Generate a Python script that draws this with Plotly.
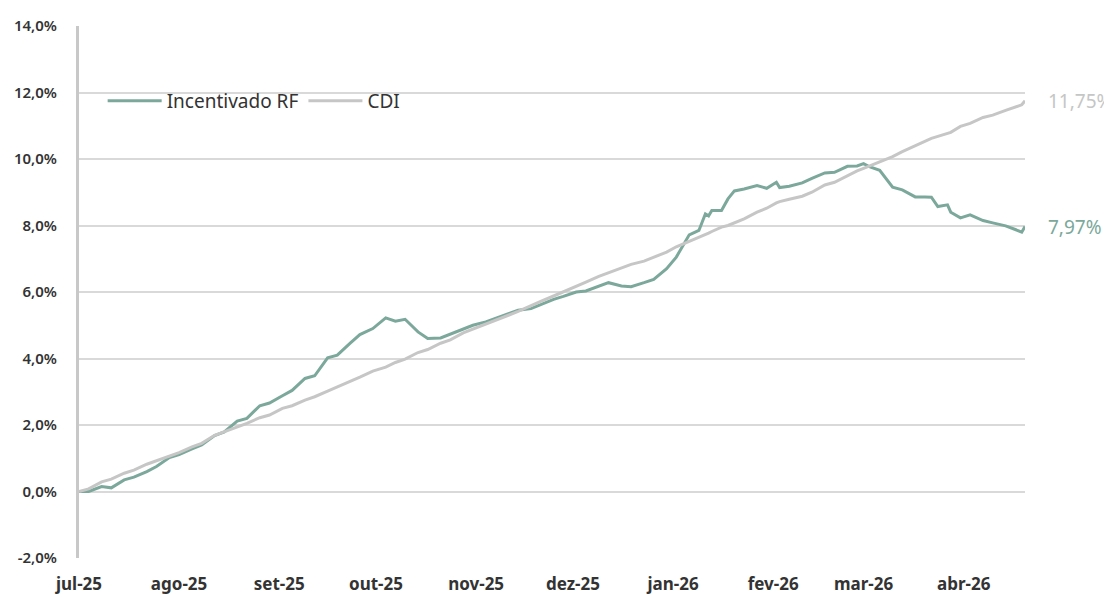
import plotly.graph_objects as go

dates = [
    "2025-07-01", "2025-07-04", "2025-07-08", "2025-07-11", "2025-07-15", "2025-07-18",
    "2025-07-22", "2025-07-25", "2025-07-29", "2025-08-01", "2025-08-05", "2025-08-08",
    "2025-08-12", "2025-08-15", "2025-08-19", "2025-08-22", "2025-08-26", "2025-08-29",
    "2025-09-02", "2025-09-05", "2025-09-09", "2025-09-12", "2025-09-16", "2025-09-19",
    "2025-09-23", "2025-09-26", "2025-09-30", "2025-10-03", "2025-10-04", "2025-10-07",
    "2025-10-10", "2025-10-14", "2025-10-17", "2025-10-21", "2025-10-24", "2025-10-28",
    "2025-10-31", "2025-11-04", "2025-11-07", "2025-11-11", "2025-11-14", "2025-11-18",
    "2025-11-21", "2025-11-25", "2025-11-28", "2025-12-02", "2025-12-05", "2025-12-09",
    "2025-12-12", "2025-12-16", "2025-12-19", "2025-12-23", "2025-12-26", "2025-12-30",
    "2026-01-02", "2026-01-06", "2026-01-09", "2026-01-11", "2026-01-12", "2026-01-13",
    "2026-01-16", "2026-01-18", "2026-01-20", "2026-01-23", "2026-01-27", "2026-01-30",
    "2026-02-02", "2026-02-03", "2026-02-06", "2026-02-10", "2026-02-13", "2026-02-17",
    "2026-02-20", "2026-02-24", "2026-02-27", "2026-03-01", "2026-03-03", "2026-03-06",
    "2026-03-10", "2026-03-13", "2026-03-17", "2026-03-20", "2026-03-22", "2026-03-24",
    "2026-03-27", "2026-03-28", "2026-03-31", "2026-04-03", "2026-04-07", "2026-04-10",
    "2026-04-14", "2026-04-17", "2026-04-19", "2026-04-20",
]

incentivado_rf = [
    0.00, 0.00, 0.15, 0.11, 0.35, 0.43,
    0.60, 0.75, 1.02, 1.11, 1.28, 1.40,
    1.68, 1.79, 2.12, 2.20, 2.58, 2.66,
    2.88, 3.04, 3.40, 3.48, 4.02, 4.10,
    4.46, 4.72, 4.90, 5.12, 5.22, 5.12,
    5.18, 4.80, 4.60, 4.62, 4.73, 4.89,
    5.00, 5.10, 5.20, 5.35, 5.45, 5.50,
    5.62, 5.78, 5.87, 6.00, 6.03, 6.16,
    6.28, 6.18, 6.16, 6.28, 6.38, 6.70,
    7.05, 7.72, 7.85, 8.35, 8.29, 8.45,
    8.45, 8.80, 9.04, 9.10, 9.20, 9.12,
    9.30, 9.14, 9.18, 9.28, 9.42, 9.58,
    9.60, 9.78, 9.79, 9.86, 9.76, 9.66,
    9.15, 9.07, 8.86, 8.86, 8.85, 8.57,
    8.62, 8.40, 8.23, 8.32, 8.15, 8.08,
    7.99, 7.88, 7.80, 7.97,
]

cdi = [
    0.00, 0.08, 0.29, 0.37, 0.55, 0.64,
    0.82, 0.92, 1.07, 1.17, 1.34, 1.45,
    1.69, 1.80, 1.93, 2.05, 2.22, 2.30,
    2.50, 2.58, 2.75, 2.85, 3.02, 3.14,
    3.30, 3.44, 3.62, 3.71, 3.74, 3.88,
    3.98, 4.18, 4.27, 4.46, 4.56, 4.77,
    4.88, 5.02, 5.14, 5.30, 5.42, 5.60,
    5.72, 5.88, 6.00, 6.18, 6.30, 6.47,
    6.58, 6.72, 6.83, 6.93, 7.04, 7.20,
    7.36, 7.52, 7.63, 7.72, 7.77, 7.82,
    7.95, 8.00, 8.08, 8.20, 8.40, 8.52,
    8.68, 8.72, 8.79, 8.88, 9.00, 9.22,
    9.30, 9.50, 9.64, 9.72, 9.80, 9.90,
    10.07, 10.22, 10.40, 10.52, 10.62, 10.68,
    10.77, 10.80, 10.98, 11.07, 11.25, 11.32,
    11.46, 11.57, 11.63, 11.75,
]

tick_dates = ["2025-07-01", "2025-08-01", "2025-09-01", "2025-10-01", "2025-11-01",
              "2025-12-01", "2026-01-01", "2026-02-01", "2026-03-01", "2026-04-01"]
tick_labels = ["jul-25", "ago-25", "set-25", "out-25", "nov-25",
               "dez-25", "jan-26", "fev-26", "mar-26", "abr-26"]
y_ticks = [-2, 0, 2, 4, 6, 8, 10, 12, 14]
y_tick_labels = [f"{v:.1f}".replace(".", ",") + "%" for v in y_ticks]

GREEN = "#7BA89B"
GRAY = "#C6C6C6"
FONT = "Noto Sans"

fig = go.Figure()
fig.add_trace(go.Scatter(x=dates, y=incentivado_rf, mode="lines", name="Incentivado RF",
                         line=dict(color=GREEN, width=3)))
fig.add_trace(go.Scatter(x=dates, y=cdi, mode="lines", name="CDI",
                         line=dict(color=GRAY, width=3)))

def fmt(v):
    return f"{v:.2f}".replace(".", ",") + "%"

fig.add_annotation(x=dates[-1], y=cdi[-1], text=fmt(cdi[-1]), showarrow=False,
                   xanchor="left", xshift=21, font=dict(family=FONT, size=19, color=GRAY))
fig.add_annotation(x=dates[-1], y=incentivado_rf[-1], text=fmt(incentivado_rf[-1]), showarrow=False,
                   xanchor="left", xshift=21, font=dict(family=FONT, size=19, color=GREEN))

# The page body has an 8px margin, so the figure is sized and offset to compensate.
fig.update_layout(
    width=1104, height=589,
    margin=dict(l=71, r=87, t=18, b=39),
    paper_bgcolor="white", plot_bgcolor="white",
    font=dict(family=FONT, color="#333333"),
    showlegend=True,
    legend=dict(orientation="h", x=0.025, y=0.859, xanchor="left", yanchor="middle",
                font=dict(family=FONT, size=19, color="#333333"),
                bgcolor="rgba(0,0,0,0)", itemwidth=54),
    xaxis=dict(type="date", range=["2025-07-01", "2026-04-20"],
               tickvals=tick_dates, ticktext=tick_labels,
               showgrid=False, zeroline=False, showline=False,
               ticks="", ticklabelstandoff=14, automargin=False,
               tickfont=dict(family=FONT, size=17, color="#333333", weight="bold")),
    yaxis=dict(range=[-2, 14], tickvals=y_ticks, ticktext=y_tick_labels,
               showgrid=True, gridcolor="#D9D9D9", gridwidth=1.5,
               zeroline=False, showline=True, linecolor="#C8C8C8", linewidth=3,
               ticks="", ticklabelstandoff=16, automargin=False,
               tickfont=dict(family=FONT, size=15, color="#333333", weight=600)),
)

fig.write_html("out.html")
